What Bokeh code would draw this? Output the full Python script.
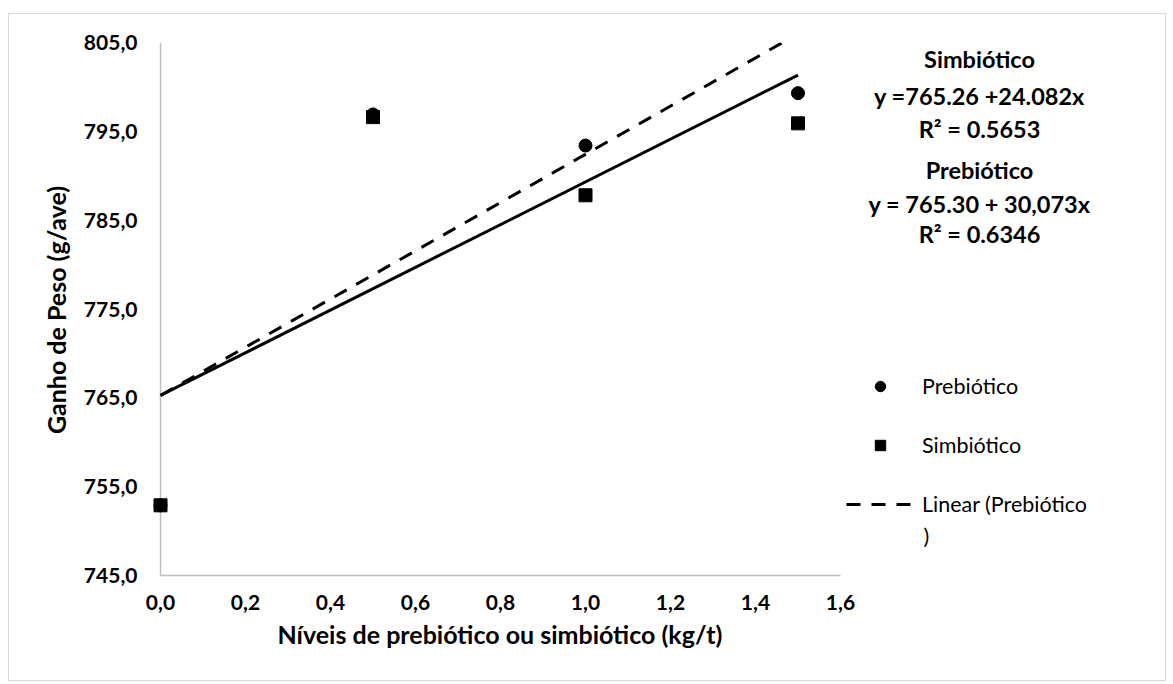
import numpy as np
from bokeh.plotting import figure
from bokeh.models import (FixedTicker, CustomJSTickFormatter, Legend, LegendItem,
                          Label, Range1d, ColumnDataSource, Title)
from bokeh.embed import file_html
from bokeh.resources import INLINE

# ---- data ----
levels = [0.0, 0.5, 1.0, 1.5]
prebiotico = [752.9, 796.9, 793.4, 799.3]
simbiotico = [752.9, 796.6, 787.8, 795.9]
x_ticks = [0.0, 0.2, 0.4, 0.6, 0.8, 1.0, 1.2, 1.4, 1.6]
y_ticks = [745, 755, 765, 775, 785, 795, 805]
eq_texts = ["Simbiótico", "y =765.26 +24.082x", "R\u00b2 = 0.5653",
            "Prebiótico", "y = 765.30 + 30,073x", "R\u00b2 = 0.6346"]
legend_labels = ["Prebiótico", "Simbiótico", "Linear (Prebiótico"]
x_title = "Níveis de prebiótico ou simbiótico (kg/t)"
y_title = "Ganho de Peso (g/ave)"

# ---- layout (canvas pixels) ----
FONT = "Lato"
W, H, MTOP = 1173, 679, 5
X0PX, X1PX = 160, 840          # pixel of first / last x tick
YTOP, YBOT = 37, 570           # pixel of top / bottom y tick
SX = (X1PX - X0PX) / (x_ticks[-1] - x_ticks[0])
SY = (YBOT - YTOP) / (y_ticks[-1] - y_ticks[0])
LPAD, BPAD = 11, 2             # extra frame room so edge markers are not cut
FL = X0PX - LPAD
FB = YBOT + BPAD

p = figure(width=W, height=H, output_backend="svg", toolbar_location=None,
           x_range=Range1d(x_ticks[0] - LPAD / SX, x_ticks[-1] + (W - X1PX) / SX),
           y_range=Range1d(y_ticks[0] - BPAD / SY, y_ticks[-1]),
           min_border_left=FL, min_border_right=0, min_border_top=YTOP,
           min_border_bottom=H - FB)
p.margin = (MTOP, 0, 0, 0)

# light grey chart border drawn behind a transparent canvas
BC = "#D9D9D9"
g = f"linear-gradient({BC},{BC})"
p.styles = {"background": (f"{g} 8px 8px / 1158px 1px no-repeat, "
                           f"{g} 8px 675px / 1158px 1px no-repeat, "
                           f"{g} 8px 8px / 1px 668px no-repeat, "
                           f"{g} 1165px 8px / 1px 668px no-repeat, white")}
p.grid.visible = False
p.outline_line_color = None
p.background_fill_color = None
p.border_fill_color = None

for ax in (p.xaxis[0], p.yaxis[0]):
    ax.axis_line_color = None
    ax.major_tick_line_color = None
    ax.minor_tick_line_color = None
    ax.major_tick_in = 0
    ax.major_tick_out = 0
    ax.major_label_text_font = FONT
    ax.major_label_text_font_style = "bold"
    ax.major_label_text_font_size = "21px"
    ax.major_label_text_color = "black"
    ax.axis_label_text_font = FONT
    ax.axis_label_text_font_style = "bold"
    ax.axis_label_text_font_size = "25px"
    ax.axis_label_text_color = "black"

p.xaxis.ticker = FixedTicker(ticks=x_ticks)
p.yaxis.ticker = FixedTicker(ticks=y_ticks)
fmt = "return tick.toFixed(1).replace('.', ',');"
p.xaxis.formatter = CustomJSTickFormatter(code=fmt)
p.yaxis.formatter = CustomJSTickFormatter(code=fmt)
p.yaxis.major_label_standoff = 12
p.xaxis.major_label_standoff = 17
p.yaxis.axis_label = y_title
p.yaxis.axis_label_standoff = 10

p.add_layout(Title(text=x_title, align="left", offset=128, standoff=8,
                   text_font=FONT, text_font_style="bold", text_font_size="25px",
                   text_color="black"), "below")

# axis lines
p.segment(x0=[x_ticks[0], x_ticks[0]], y0=[y_ticks[0], y_ticks[0]],
          x1=[x_ticks[-1], x_ticks[0]], y1=[y_ticks[0], y_ticks[-1]],
          line_color="#BFBFBF", line_width=1.5)

# trendlines (least squares fits of the series)
xs = np.array(levels)
b_s, a_s = np.polyfit(xs, simbiotico, 1)
b_p, a_p = np.polyfit(xs, prebiotico, 1)
fit_x = [levels[0], levels[-1]]
src_fit = ColumnDataSource(dict(x=fit_x,
                                ys=[a_s + b_s * v for v in fit_x],
                                yp=[a_p + b_p * v for v in fit_x]))
r_lin_s = p.line("x", "ys", source=src_fit, line_color="black", line_width=3)
r_lin_p = p.line("x", "yp", source=src_fit, line_color="black", line_width=3,
                 line_dash="14 11")

src = ColumnDataSource(dict(x=levels, pre=prebiotico, sim=simbiotico))
r_pre = p.scatter("x", "pre", source=src, marker="circle", size=13,
                  fill_color="black", line_color="black")
r_sim = p.scatter("x", "sim", source=src, marker="square", size=13,
                  fill_color="black", line_color="black")

# legend
legend = Legend(items=[LegendItem(label=legend_labels[0], renderers=[r_pre]),
                       LegendItem(label=legend_labels[1], renderers=[r_sim]),
                       LegendItem(label=legend_labels[2], renderers=[r_lin_p])],
                location=(846 - FL, FB - 512), orientation="vertical",
                glyph_width=68, glyph_height=26, label_standoff=8, spacing=33,
                padding=0, margin=0, border_line_color=None, background_fill_alpha=0,
                label_text_font=FONT, label_text_font_size="21.5px",
                label_text_color="black")
p.add_layout(legend, "center")


def sx2d(sx):
    return x_ticks[0] + (sx - X0PX) / SX


def sy2d(sy):
    return y_ticks[-1] - (sy - YTOP) / SY


p.add_layout(Label(x=sx2d(923), y=sy2d(530), text=")", text_font=FONT,
                   text_font_size="21.5px", text_color="black",
                   text_align="left", text_baseline="middle"))

eq_y = [53, 90, 123, 164, 198, 228]
for t, sy in zip(eq_texts, eq_y):
    p.add_layout(Label(x=sx2d(979), y=sy2d(sy), text=t, text_font=FONT,
                       text_font_style="bold", text_font_size="23.5px",
                       text_color="black", text_align="center",
                       text_baseline="middle"))

open("out.html", "w").write(file_html(p, INLINE))
